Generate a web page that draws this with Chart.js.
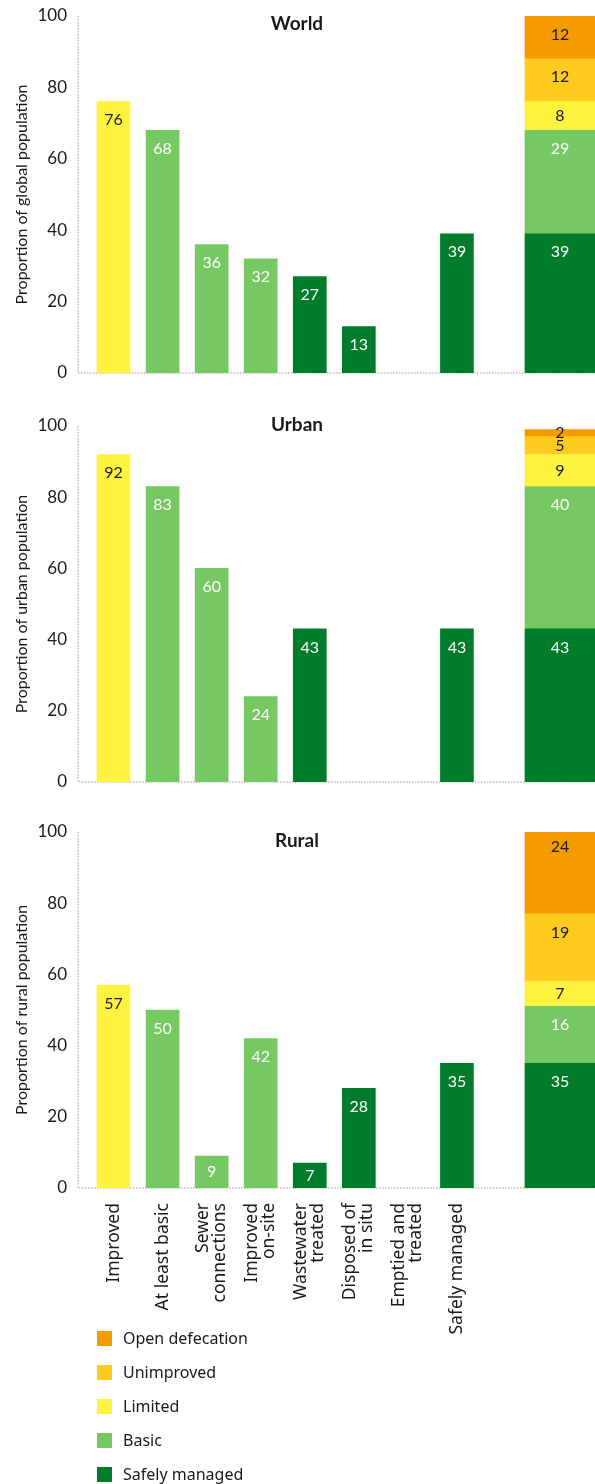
<!DOCTYPE html>
<html>
<head>
<meta charset="utf-8">
<script src="https://cdn.jsdelivr.net/npm/chart.js@4.4.1/dist/chart.umd.min.js"></script>
<style>
  body { margin: 0; background: #fff; }
  #page { position: relative; width: 595px; height: 1484px; overflow: hidden; font-family: Lato, sans-serif; color: #1a1a1a; }
  .panel { position: absolute; left: 0; z-index: 1; }
  .panel-title { position: absolute; left: 297px; transform: translate(-50%, -50%); font-weight: 700; font-size: 19px; z-index: 2; }
  #legend { position: absolute; left: 97px; top: 1321px; z-index: 3; font-family: 'Noto Sans', sans-serif; font-size: 16px; color: #1a1a1a; }
  .legend-item { display: flex; align-items: center; height: 34px; }
  .swatch { width: 15px; height: 15px; margin-right: 11px; }
</style>
</head>
<body>
<div id="page">
  <div id="legend"></div>
</div>

<script>
// categories along the x axis (array = wrapped label)
const categories = ['Improved', 'At least basic', ['Sewer', 'connections'], ['Improved', 'on-site'],
    ['Wastewater', 'treated'], ['Disposed of', 'in situ'], ['Emptied and', 'treated'], 'Safely managed'];

// service levels, bottom of the ladder first
const levels = ['Safely managed', 'Basic', 'Limited', 'Unimproved', 'Open defecation'];
const levelColors = ['#007c2a', '#76c862', '#fff340', '#fecb1e', '#f59b00'];
const levelInk = ['#ffffff', '#ffffff', '#1a1a1a', '#1a1a1a', '#1a1a1a'];
const categoryLevel = [2, 1, 1, 1, 0, 0, 0, 0]; // index into levels

const worldBars = [76, 68, 36, 32, 27, 13, null, 39];
const urbanBars = [92, 83, 60, 24, 43, null, null, 43];
const ruralBars = [57, 50, 9, 42, 7, 28, null, 35];

const worldLadder = [39, 29, 8, 12, 12];
const urbanLadder = [43, 40, 9, 5, 2];
const ruralLadder = [35, 16, 7, 19, 24];

const yTicks = [0, 20, 40, 60, 80, 100];

// the ladder column sits after one empty slot
const SUMMARY_X = 10.1;
const X_MIN = 0.2755, X_MAX = 10.814;

const panels = [
    { title: 'World', yTitle: 'Proportion of global population', bars: worldBars, ladder: worldLadder,
      top: 0, height: 390, padTop: 16, padBottom: 17, titleY: 22, showCats: false },
    { title: 'Urban', yTitle: 'Proportion of urban population', bars: urbanBars, ladder: urbanLadder,
      top: 400, height: 400, padTop: 26, padBottom: 18, titleY: 423, showCats: false },
    { title: 'Rural', yTitle: 'Proportion of rural population', bars: ruralBars, ladder: ruralLadder,
      top: 810, height: 545, padTop: 22, padBottom: 167, titleY: 839, showCats: true },
];

const axisDots = {
    id: 'axisDots',
    beforeDatasetsDraw(chart) {
        const { ctx, chartArea: a } = chart;
        ctx.save();
        ctx.strokeStyle = '#bdbdbd';
        ctx.lineWidth = 1.5;
        ctx.setLineDash([1.5, 1.5]);
        ctx.beginPath();
        ctx.moveTo(a.left, a.top);
        ctx.lineTo(a.left, a.bottom);
        ctx.lineTo(a.right, a.bottom);
        ctx.stroke();
        ctx.restore();
    }
};

const valueLabels = {
    id: 'valueLabels',
    afterDatasetsDraw(chart) {
        const { ctx } = chart;
        ctx.save();
        ctx.font = '16px Lato, sans-serif';
        ctx.textAlign = 'center';
        ctx.textBaseline = 'middle';
        chart.data.datasets.forEach((ds, di) => {
            const meta = chart.getDatasetMeta(di);
            meta.data.forEach((bar, i) => {
                const v = ds.data[i].y;
                if (v == null) return;
                const { x, y, base } = bar.getProps(['x', 'y', 'base'], true);
                const h = base - y;
                ctx.fillStyle = Array.isArray(ds.ink) ? ds.ink[i] : ds.ink;
                ctx.fillText(String(v), x, y + Math.min(h / 2, 18.5));
            });
        });
        ctx.restore();
    }
};

const categoryLabels = {
    id: 'categoryLabels',
    afterDraw(chart, args, opts) {
        if (!opts.show) return;
        const { ctx, chartArea, scales: { x } } = chart;
        ctx.save();
        ctx.font = '17.5px "Noto Sans", sans-serif';
        ctx.fillStyle = '#1a1a1a';
        ctx.textAlign = 'right';
        ctx.textBaseline = 'middle';
        categories.forEach((c, i) => {
            const lines = [].concat(c);
            ctx.save();
            ctx.translate(x.getPixelForValue(i + 1), chartArea.bottom + 15);
            ctx.rotate(-Math.PI / 2);
            lines.forEach((ln, j) => ctx.fillText(ln, 0, (j - (lines.length - 1) / 2) * 17));
            ctx.restore();
        });
        ctx.restore();
    }
};

function buildDatasets(bars, ladder) {
    const single = {
        label: 'Indicators',
        data: bars.map((v, i) => ({ x: i + 1, y: v })),
        backgroundColor: categoryLevel.map(l => levelColors[l]),
        ink: categoryLevel.map(l => levelInk[l]),
        barThickness: 33,
        grouped: false,
        stack: 'single',
    };
    const segments = levels.map((name, k) => ({
        label: name,
        data: [{ x: SUMMARY_X, y: ladder[k] }],
        backgroundColor: levelColors[k],
        ink: levelInk[k],
        barThickness: 70,
        grouped: false,
        stack: 'ladder',
    }));
    return [single, ...segments];
}

const page = document.getElementById('page');

panels.forEach(p => {
    const canvas = document.createElement('canvas');
    canvas.className = 'panel';
    canvas.width = 595;
    canvas.height = p.height;
    canvas.style.top = p.top + 'px';
    page.appendChild(canvas);

    const title = document.createElement('div');
    title.className = 'panel-title';
    title.style.top = p.titleY + 'px';
    title.textContent = p.title;
    page.appendChild(title);

    new Chart(canvas, {
        type: 'bar',
        data: { datasets: buildDatasets(p.bars, p.ladder) },
        options: {
            responsive: false,
            animation: false,
            events: [],
            layout: { padding: { top: p.padTop, bottom: p.padBottom, left: 0, right: 0 } },
            scales: {
                x: { type: 'linear', min: X_MIN, max: X_MAX, offset: false, display: false },
                y: {
                    min: 0, max: 100, stacked: true,
                    afterBuildTicks: s => { s.ticks = yTicks.map(v => ({ value: v })); },
                    afterFit: s => { s.width = 78; s.paddingTop = 0; s.paddingBottom = 0; },
                    grid: { display: false, drawTicks: false },
                    border: { display: false },
                    ticks: { padding: 11, color: '#1a1a1a', font: { family: 'Lato', size: 17 } },
                    title: { display: true, text: p.yTitle, color: '#1a1a1a',
                             font: { family: 'Lato', size: 16 }, padding: { top: 12, bottom: 0 } },
                },
            },
            plugins: {
                legend: { display: false },
                tooltip: { enabled: false },
                categoryLabels: { show: p.showCats },
            },
        },
        plugins: [axisDots, valueLabels, categoryLabels],
    });
});

// legend, top of the ladder first
const legend = document.getElementById('legend');
levels.slice().reverse().forEach(name => {
    const k = levels.indexOf(name);
    legend.insertAdjacentHTML('beforeend',
        `<div class="legend-item"><span class="swatch" style="background:${levelColors[k]}"></span>${name}</div>`);
});
</script>
</body>
</html>
